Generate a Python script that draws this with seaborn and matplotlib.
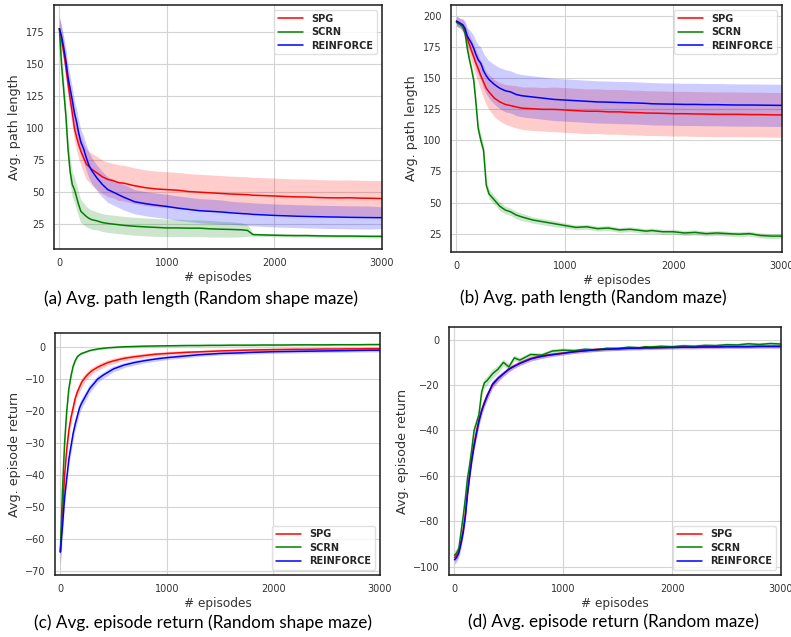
import numpy as np
import matplotlib.pyplot as plt
import seaborn as sns

# --- DATA ---
EPISODES = [0, 20, 40, 60, 80, 100, 120, 140, 160, 180, 200, 225, 250, 275, 300,
            350, 400, 450, 500, 550, 600, 700, 800, 900, 1000, 1100, 1200, 1300,
            1400, 1500, 1600, 1700, 1750, 1800, 1900, 2000, 2100, 2200, 2300,
            2400, 2500, 2600, 2700, 2800, 2900, 3000]
METHODS = ["SPG", "SCRN", "REINFORCE"]

# (a) path length, random shape maze
SPG_A = [178, 170, 160, 148, 135, 123, 112, 100, 93, 87, 82, 77, 72, 70, 68,
         65, 62, 60, 59, 57.5, 57, 55, 53.5, 52.5, 52, 51.5, 50.5, 50,
         49.5, 49, 48.5, 48.2, 48, 47.6, 47.3, 47, 46.6, 46.3, 46.2,
         45.8, 45.6, 45.5, 45.6, 45.3, 45.2, 45]
SPG_A_SD = [9, 9, 9, 9, 9, 9.5, 10, 10, 10.5, 11, 11, 11.5, 12, 12, 12.5,
            13, 13, 13.5, 13.5, 14, 14, 14, 14, 14, 14, 14, 14, 14,
            14, 14, 14, 14, 14, 14, 14, 14, 14, 14, 14,
            14, 14, 14, 14, 14, 14, 14]
SCRN_A = [178, 150, 130, 110, 84, 66, 56, 52, 46, 40, 35, 33, 31, 29.5, 28.5,
          27.5, 26.2, 25.5, 25, 24.5, 24, 23.3, 22.8, 22.4, 22, 22, 21.8, 21.8,
          21.3, 21, 20.8, 20.5, 20, 16.8, 16.5, 16.3, 16.1, 16, 16,
          15.8, 15.7, 15.6, 15.6, 15.5, 15.4, 15.4]
SCRN_A_SD = [9, 9, 9, 9, 9.5, 10, 10, 10, 10, 9.5, 9, 8.5, 8, 7.5, 7.5,
             7, 7, 7, 7, 7, 7, 7, 7, 7, 6.8, 6.8, 6.5, 6.5,
             6.5, 6.2, 6, 5.5, 4.5, 1.2, 1.2, 1.2, 1.2, 1.2, 1.2,
             1.2, 1.2, 1.2, 1.2, 1.2, 1.2, 1.2]
REINFORCE_A = [178, 172, 163, 153, 140, 131, 122, 112, 105, 96, 89, 84, 77, 71, 67,
               61, 56, 52, 50, 48, 46, 42.5, 41, 39.8, 38.8, 37.5, 36.5, 35.5,
               35, 34.5, 33.8, 33.2, 33, 32.6, 32.2, 31.8, 31.5, 31.2, 31,
               30.8, 30.6, 30.5, 30.3, 30.2, 30.1, 30]
REINFORCE_A_SD = [9, 9, 9, 9.5, 10, 10, 10, 10, 10, 10, 10, 10, 10, 10, 10,
                  10, 10, 10, 10, 10, 10, 9.5, 9.5, 9.5, 9.5, 9.5, 9.5, 9.5,
                  9.5, 9.5, 9, 9, 9, 9, 9, 9, 9, 9, 9,
                  9, 9, 9, 9, 9, 9, 8.5]

# (b) path length, random maze
SPG_B = [196, 195, 194, 192, 188, 182, 177, 172, 167, 162, 158, 152, 147, 142, 139,
         134, 131, 129, 128, 127, 126, 125.5, 125, 125, 124.5, 124, 123.5, 123.5,
         123, 123, 122.5, 122.3, 122, 122, 121.8, 121.5, 121.5, 121.3, 121.2,
         121, 121, 121, 120.8, 120.8, 120.6, 120.5]
SPG_B_SD = [4, 4, 4, 5, 6, 7, 8, 9, 10, 10.5, 11, 12, 13, 13.5, 14,
            15, 15.5, 16, 16.5, 17, 17, 17.5, 17.5, 18, 18, 18, 18, 18,
            18, 18, 18, 18, 18, 18, 18, 18, 18, 18, 18,
            18, 18, 18, 18, 18, 18, 18]
SCRN_B = [195, 194, 193, 191, 186, 174, 165, 157, 148, 130, 110, 100, 92, 64, 57,
          52, 47, 44, 42.5, 40, 38.5, 36, 34.5, 33, 31.5, 30, 30.5, 29,
          29.5, 28, 28.5, 27.5, 27, 27.5, 26.5, 26.5, 25.5, 26, 25,
          25.5, 25, 24.5, 25, 23.5, 23, 23]
SCRN_B_SD = [2, 2, 2, 2.5, 3, 3.5, 4, 4, 4, 4.5, 4.5, 4.5, 4.5, 4, 4,
             3.5, 3.5, 3, 3, 3, 3, 2.5, 2.5, 2.5, 2, 2, 2, 2,
             2, 2, 2, 2, 2, 2, 2, 2, 2, 2, 2,
             2, 2, 2, 2, 2, 2, 2]
REINFORCE_B = [196, 195, 194, 193, 190, 184, 181, 178, 174, 169, 165, 162, 156, 152, 149,
               145, 142, 140, 139, 137, 136, 135, 134, 133, 132.5, 132, 131.5, 131,
               130.8, 130.5, 130.3, 130, 129.8, 129.5, 129.3, 129.2, 129, 129, 128.8,
               128.8, 128.6, 128.5, 128.5, 128.4, 128.3, 128.2]
REINFORCE_B_SD = [4, 4, 4, 5, 6, 7, 8, 9, 10, 11, 12, 13, 14, 14.5, 15,
                  16, 16.5, 17, 17, 17, 17, 17, 17, 17, 17, 17, 17, 17,
                  17, 17, 17, 17, 17, 17, 17, 17, 17, 17, 17,
                  17, 17, 17, 17, 17, 17, 17]

# (c) episode return, random shape maze
SPG_C = [-64, -52, -40, -32, -26, -22, -19, -16, -14, -12.5, -11, -9.8, -8.8, -8, -7.3,
         -6.3, -5.5, -4.8, -4.3, -3.9, -3.5, -3, -2.6, -2.2, -2, -1.8, -1.6, -1.5,
         -1.35, -1.2, -1.1, -1, -0.95, -0.9, -0.85, -0.8, -0.75, -0.7, -0.7,
         -0.65, -0.6, -0.6, -0.55, -0.55, -0.5, -0.5]
SPG_C_SD = [4, 3, 2.5, 2, 2, 1.8, 1.8, 1.6, 1.5, 1.5, 1.4, 1.3, 1.2, 1.2, 1.1,
            1, 1, 0.9, 0.9, 0.8, 0.8, 0.7, 0.7, 0.6, 0.6, 0.6, 0.5, 0.5,
            0.5, 0.5, 0.5, 0.5, 0.5, 0.5, 0.5, 0.5, 0.5, 0.5, 0.5,
            0.5, 0.5, 0.5, 0.5, 0.5, 0.5, 0.5]
SCRN_C = [-64, -45, -30, -20, -13, -9, -6, -4.2, -3, -2.4, -2, -1.7, -1.4, -1.1, -0.9,
          -0.6, -0.4, -0.2, -0.1, 0, 0.1, 0.2, 0.3, 0.35, 0.4, 0.45, 0.5, 0.5,
          0.55, 0.55, 0.6, 0.6, 0.6, 0.6, 0.65, 0.65, 0.65, 0.7, 0.7,
          0.7, 0.7, 0.75, 0.75, 0.75, 0.8, 0.8]
SCRN_C_SD = [4, 3, 2, 1.5, 1.2, 1, 0.8, 0.6, 0.5, 0.4, 0.4, 0.3, 0.3, 0.3, 0.3,
             0.3, 0.3, 0.3, 0.3, 0.3, 0.3, 0.3, 0.3, 0.3, 0.3, 0.3, 0.3, 0.3,
             0.3, 0.3, 0.3, 0.3, 0.3, 0.3, 0.3, 0.3, 0.3, 0.3, 0.3,
             0.3, 0.3, 0.3, 0.3, 0.3, 0.3, 0.3]
REINFORCE_C = [-64, -56, -47, -41, -35, -31, -27, -24, -21.5, -19, -17.5, -16, -14.5, -13, -12,
               -10, -8.8, -7.8, -6.8, -6.2, -5.6, -4.8, -4.2, -3.7, -3.3, -3, -2.7, -2.4,
               -2.2, -2, -1.9, -1.8, -1.7, -1.65, -1.55, -1.45, -1.4, -1.35, -1.3,
               -1.25, -1.2, -1.15, -1.1, -1.05, -1, -1]
REINFORCE_C_SD = [4, 3, 2.5, 2.2, 2.2, 2, 2, 1.8, 1.8, 1.7, 1.6, 1.5, 1.4, 1.3, 1.2,
                  1.1, 1, 1, 0.9, 0.9, 0.8, 0.8, 0.7, 0.7, 0.6, 0.6, 0.6, 0.5,
                  0.5, 0.5, 0.5, 0.5, 0.5, 0.5, 0.5, 0.5, 0.5, 0.5, 0.5,
                  0.5, 0.5, 0.5, 0.5, 0.5, 0.5, 0.5]

# (d) episode return, random maze
SPG_D = [-96, -95, -93, -89, -84, -77, -67, -59, -52, -46, -41, -35.5, -31, -27.5, -24.5,
         -20, -17.2, -15, -13, -11.5, -10.3, -8.3, -7.2, -6.5, -5.9, -5.3, -4.8, -4.3,
         -4.1, -3.9, -3.7, -3.6, -3.5, -3.5, -3.4, -3.3, -3.2, -3.2, -3.1,
         -3.1, -3, -3, -3, -2.9, -2.9, -2.9]
SPG_D_SD = [2, 2, 2, 2, 2, 2, 2, 2, 2, 2, 2, 2, 2, 1.8, 1.8,
            1.5, 1.5, 1.2, 1.2, 1, 1, 1, 1, 0.8, 0.8, 0.8, 0.8, 0.8,
            0.8, 0.8, 0.8, 0.8, 0.8, 0.8, 0.8, 0.8, 0.8, 0.8, 0.8,
            0.8, 0.8, 0.8, 0.8, 0.8, 0.8, 0.8]
SCRN_D = [-95, -94, -92, -85, -78, -70, -61, -55, -48, -40, -37, -33, -23, -19, -18,
          -15, -13, -10, -12, -8, -9, -6.5, -6.8, -5, -4.6, -4.8, -4.2, -4.5,
          -3.8, -3.9, -3.3, -3.6, -3.1, -3.2, -2.9, -3.1, -2.7, -2.9, -2.5,
          -2.6, -2.2, -2.3, -1.8, -2.1, -1.7, -1.9]
SCRN_D_SD = [2, 2, 2, 2.5, 2.5, 2.5, 2.5, 2.5, 2.5, 2.5, 2.5, 2.5, 2.5, 2, 2,
             2, 1.8, 1.5, 1.5, 1.2, 1.2, 1, 1, 1, 1, 0.8, 0.8, 0.8,
             0.8, 0.8, 0.8, 0.8, 0.8, 0.8, 0.8, 0.8, 0.8, 0.8, 0.8,
             0.8, 0.8, 0.8, 0.8, 0.8, 0.8, 0.8]
REINFORCE_D = [-97, -96, -94, -90, -85, -78, -68, -60, -53, -47, -42, -36, -31.5, -28, -25,
               -19.5, -17, -15, -13, -11.7, -10.5, -8.5, -7.3, -6.6, -6, -5.3, -4.9, -4.4,
               -4.2, -4, -3.8, -3.7, -3.6, -3.6, -3.5, -3.4, -3.3, -3.3, -3.2,
               -3.2, -3.1, -3.1, -3.1, -3, -3, -3]
REINFORCE_D_SD = [2, 2, 2, 2, 2, 2, 2, 2, 2, 2, 2, 2, 2, 1.8, 1.8,
                  1.5, 1.5, 1.2, 1.2, 1, 1, 1, 1, 0.8, 0.8, 0.8, 0.8, 0.8,
                  0.8, 0.8, 0.8, 0.8, 0.8, 0.8, 0.8, 0.8, 0.8, 0.8, 0.8,
                  0.8, 0.8, 0.8, 0.8, 0.8, 0.8, 0.8]

COLORS = {"SPG": "red", "SCRN": "green", "REINFORCE": "blue"}

# --- STYLE ---
sns.set_style("whitegrid", {"axes.edgecolor": "0.1", "grid.color": "0.83",
                            "xtick.color": "0.2", "ytick.color": "0.2"})
plt.rcParams["font.family"] = ["DejaVu Sans"]

W, H = 791, 637
fig = plt.figure(figsize=(W / 100, H / 100), dpi=100)


def px_axes(left, top, right, bottom):
    return fig.add_axes([left / W, 1 - bottom / H, (right - left) / W, (bottom - top) / H])


panels = [
    dict(box=(54, 5, 382, 249), data=[(SPG_A, SPG_A_SD), (SCRN_A, SCRN_A_SD), (REINFORCE_A, REINFORCE_A_SD)],
         ylim=(5.5, 196.5), yticks=[25, 50, 75, 100, 125, 150, 175], ylabel="Avg. path length",
         loc="upper right", caption="(a) Avg. path length (Random shape maze)", cap=(201, 299)),
    dict(box=(451, 5, 782, 252), data=[(SPG_B, SPG_B_SD), (SCRN_B, SCRN_B_SD), (REINFORCE_B, REINFORCE_B_SD)],
         ylim=(10.2, 209), yticks=[25, 50, 75, 100, 125, 150, 175, 200], ylabel="Avg. path length",
         loc="upper right", caption="(b) Avg. path length (Random maze)", cap=(593, 298)),
    dict(box=(55, 333, 380, 575), data=[(SPG_C, SPG_C_SD), (SCRN_C, SCRN_C_SD), (REINFORCE_C, REINFORCE_C_SD)],
         ylim=(-71.2, 4.4), yticks=[-70, -60, -50, -40, -30, -20, -10, 0], ylabel="Avg. episode return",
         loc="lower right", caption="(c) Avg. episode return (Random shape maze)", cap=(203, 623)),
    dict(box=(449, 327, 781, 575), data=[(SPG_D, SPG_D_SD), (SCRN_D, SCRN_D_SD), (REINFORCE_D, REINFORCE_D_SD)],
         ylim=(-103.7, 5.6), yticks=[-100, -80, -60, -40, -20, 0], ylabel="Avg. episode return",
         loc="lower right", caption="(d) Avg. episode return (Random maze)", cap=(613, 622)),
]

x = np.array(EPISODES)
for p in panels:
    ax = px_axes(*p["box"])
    for name, (mean, sd) in zip(METHODS, p["data"]):
        mean = np.array(mean)
        sd = np.array(sd)
        ax.fill_between(x, mean - sd, mean + sd, color=COLORS[name], alpha=0.2, lw=0)
        sns.lineplot(x=x, y=mean, color=COLORS[name], lw=1.1, label=name, ax=ax)
    ax.set_xlim(-50, 3000)
    ax.set_ylim(*p["ylim"])
    ax.set_xticks([0, 1000, 2000, 3000])
    ax.set_yticks(p["yticks"])
    ax.tick_params(axis="x", labelsize=7, pad=3)
    ax.tick_params(axis="y", labelsize=7, pad=3.5)
    ax.set_xlabel("# episodes", fontsize=8.7, color="0.2", labelpad=2)
    ax.set_ylabel(p["ylabel"], fontsize=9.2, color="0.2", labelpad=3)
    for s in ax.spines.values():
        s.set_linewidth(1.1)
    leg = ax.legend(loc=p["loc"], prop={"weight": "bold", "size": 7}, handlelength=2.6,
                    labelspacing=0.35, borderaxespad=0.5, frameon=True)
    leg.get_frame().set_edgecolor("0.85")
    cx, cy = p["cap"]
    fig.text(cx / W, 1 - cy / H, p["caption"], ha="center", va="center",
             fontsize=12.3, family="Lato", color="black")

fig.savefig("out.png", dpi=100)
